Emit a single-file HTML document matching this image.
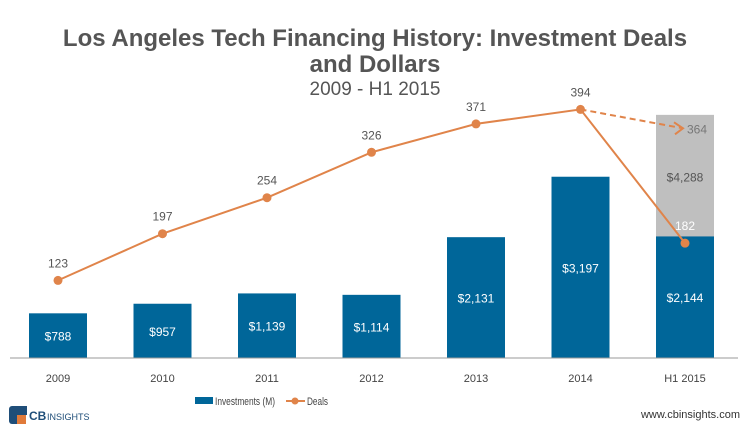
<!DOCTYPE html>
<html><head><meta charset="utf-8"><style>
body{margin:0;background:#fff;font-family:"Liberation Sans",sans-serif}
svg text{font-family:"Liberation Sans",sans-serif}
</style></head><body>
<svg width="750" height="432" viewBox="0 0 750 432">
<text x="375" y="46" text-anchor="middle" font-size="24" font-weight="bold" fill="#555">Los Angeles Tech Financing History: Investment Deals</text>
<text x="375" y="72" text-anchor="middle" font-size="24" font-weight="bold" fill="#555">and Dollars</text>
<text x="375" y="95" text-anchor="middle" font-size="19" fill="#555">2009 - H1 2015</text>
<g id="plot"></g>
<line x1="10" y1="358" x2="738" y2="358" stroke="#999" stroke-width="1"/>
<g>
<rect x="195" y="397" width="18" height="7" fill="#006699"/>
<text x="215" y="405" font-size="11" fill="#444" textLength="60" lengthAdjust="spacingAndGlyphs">Investments (M)</text>
<line x1="286" y1="401" x2="305" y2="401" stroke="#e0844a" stroke-width="2"/>
<circle cx="295" cy="401" r="3.5" fill="#e0844a"/>
<text x="307" y="405" font-size="11" fill="#444" textLength="21" lengthAdjust="spacingAndGlyphs">Deals</text>
</g>
<g>
<rect x="9" y="406" width="14" height="18" rx="3" fill="#1f4e79"/>
<rect x="15" y="406" width="12" height="9" fill="#1f4e79"/>
<rect x="17" y="415" width="9" height="9" fill="#e07a3a"/>
<text x="29" y="420" font-size="12" font-weight="bold" fill="#1f4e79">CB</text>
<text x="47" y="420" font-size="9" fill="#1f4e79">INSIGHTS</text>
</g>
<text x="740" y="418" text-anchor="end" font-size="11" fill="#333">www.cbinsights.com</text>
</svg>
<script>
const categories=["2009","2010","2011","2012","2013","2014","H1 2015"];
const investments=[788,957,1139,1114,2131,3197,2144];
const investmentLabels=["$788","$957","$1,139","$1,114","$2,131","$3,197","$2,144"];
const projectedInvestment=4288;
const deals=[123,197,254,326,371,394,182];
const projectedDeals=364;
const NS="http://www.w3.org/2000/svg";
const g=document.getElementById("plot");
const x=i=>58+i*104.5;
const yI=v=>358-v*0.0567;
const yD=v=>358-v*0.631;
function el(t,a,p){const e=document.createElementNS(NS,t);for(const k in a)e.setAttribute(k,a[k]);(p||g).appendChild(e);return e;}
const last=categories.length-1;
let pb=el("rect",{x:x(last)-29,y:yI(projectedInvestment),width:58,height:358-yI(projectedInvestment),fill:"#bfbfbf"});


let pl=el("text",{x:x(last),y:(yI(projectedInvestment)+yI(investments[last]))/2+6,"text-anchor":"middle","font-size":"12",fill:"#555"});
pl.textContent="$"+projectedInvestment.toLocaleString("en-US");


investments.forEach((v,i)=>{
 const r=el("rect",{x:x(i)-29,y:yI(v),width:58,height:358-yI(v),fill:"#006699"});
 
 
 const t=el("text",{x:x(i),y:(yI(v)+358)/2+5,"text-anchor":"middle","font-size":"12",fill:"#fff"});
 t.textContent=investmentLabels[i];
 
 
 const c=el("text",{x:x(i),y:382,"text-anchor":"middle","font-size":"11",fill:"#444"});
 c.textContent=categories[i];
 
 
});
const px=x(last)-2, py=yD(projectedDeals);
let dl=el("line",{x1:x(last-1),y1:yD(deals[last-1]),x2:px,y2:py,stroke:"#e0844a","stroke-width":2,"stroke-dasharray":"6,4"});


let ar=el("polyline",{points:`${px-9},${py-6} ${px},${py} ${px-8},${py+6}`,fill:"none",stroke:"#e0844a","stroke-width":2});


let plab=el("text",{x:px+4,y:py+5,"font-size":"12",fill:"#777"});
plab.textContent=projectedDeals;


let pts=deals.map((d,i)=>x(i)+","+yD(d)).join(" ");
let ln=el("polyline",{points:pts,fill:"none",stroke:"#e0844a","stroke-width":2});


deals.forEach((d,i)=>{
 const c=el("circle",{cx:x(i),cy:yD(d),r:4.5,fill:"#e0844a"});
 
 
 const t=el("text",{x:x(i),y:yD(d)-13,"text-anchor":"middle","font-size":"12",fill:i===last?"#fff":"#555"});
 t.textContent=d;
 
 
});
</script>
</body></html>
